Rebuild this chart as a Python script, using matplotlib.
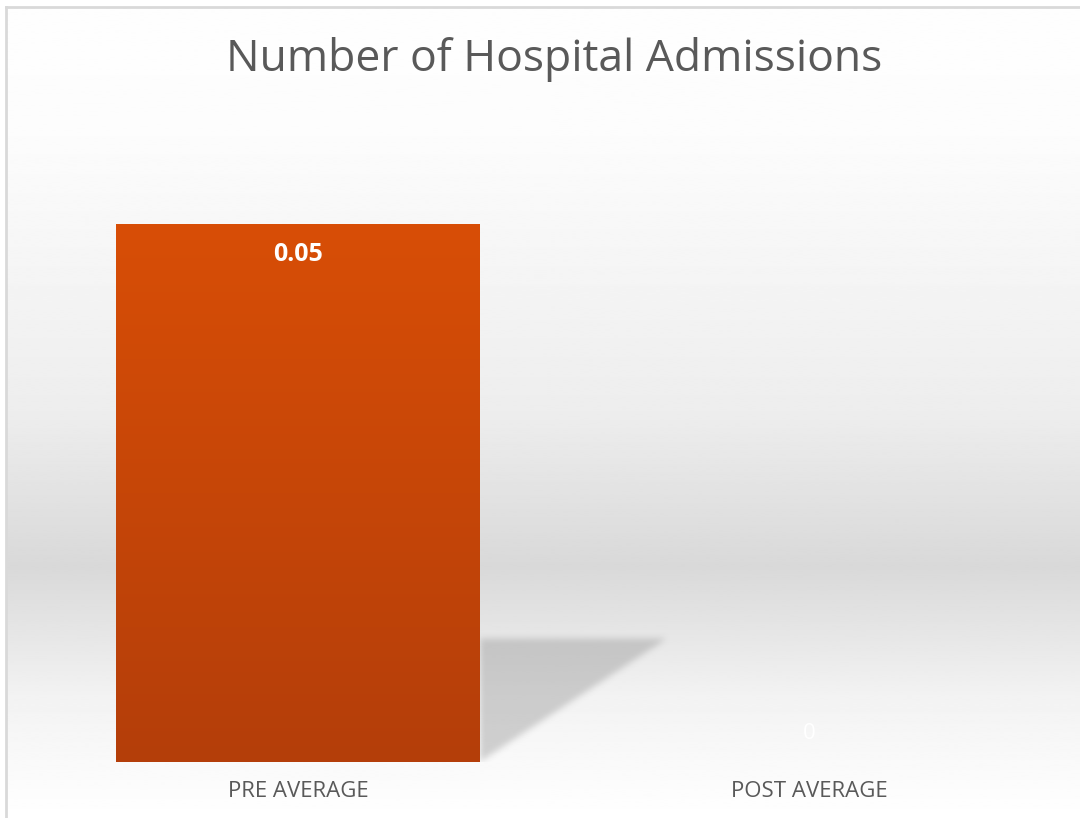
import matplotlib
matplotlib.use('Agg')
import matplotlib.pyplot as plt
import numpy as np
from matplotlib import font_manager
from matplotlib.colors import LinearSegmentedColormap
from matplotlib.patches import Rectangle

categories = ['PRE AVERAGE', 'POST AVERAGE']
values = [0.05, 0]
value_labels = ['0.05', '0']
title = 'Number of Hospital Admissions'

# pick a narrow-ish font if there is one
names = {f.name for f in font_manager.fontManager.ttflist}
font = 'DejaVu Sans'
for cand in ['Liberation Sans Narrow', 'DejaVu Sans Condensed', 'Open Sans']:
    if cand in names:
        font = cand
        break
plt.rcParams['font.family'] = [font, 'DejaVu Sans']

W, H = 1080, 818
fig = plt.figure(figsize=(W / 100, H / 100), dpi=100)
fig.patch.set_facecolor('white')

# background gradient panel with thin border (left/top only visible)
bg = fig.add_axes([6 / W, 0, 1 - 6 / W, 1 - 7 / H])
ys = np.linspace(0, 1, 400)  # 0 = top
stops_y = [0.0, 0.15, 0.5, 0.69, 0.85, 1.0]
stops_v = [0.995, 0.99, 0.93, 0.85, 0.95, 1.0]
col = np.interp(ys, stops_y, stops_v)
bg.imshow(col[:, None], cmap='gray', vmin=0, vmax=1, aspect='auto',
          extent=[0, 1, 0, 1], interpolation='bilinear')
bg.set_xlim(0, 1)
bg.set_ylim(0, 1)
bg.axis('off')
bg.plot([0, 0], [0, 1], color='#d9d9d9', lw=2, clip_on=False)
bg.plot([0, 1], [1, 1], color='#d9d9d9', lw=2, clip_on=False)

# plot area
left, right = 42.5, 1064.5
bottom, top = 762, 110
ax = fig.add_axes([left / W, 1 - bottom / H, (right - left) / W, (bottom - top) / H])
ax.patch.set_alpha(0)
x = np.arange(len(categories))
ymax = values[0] * (bottom - top) / (bottom - 224)
ax.set_xlim(-0.5, len(categories) - 0.5)
ax.set_ylim(0, ymax)
width = 0.712


def blur(a, r, n=3):
    k = np.ones(2 * r + 1) / (2 * r + 1)
    for _ in range(n):
        a = np.apply_along_axis(lambda m: np.convolve(m, k, mode='same'), 0, a)
        a = np.apply_along_axis(lambda m: np.convolve(m, k, mode='same'), 1, a)
    return a


bars = ax.bar(x, values, width=width, color='none', edgecolor='none', zorder=3)
cmap = LinearSegmentedColormap.from_list('bar', ['#b43e0a', '#d84e06'])
for b, v in zip(bars, values):
    if v <= 0:
        continue
    x0, x1 = b.get_x(), b.get_x() + b.get_width()
    # soft perspective shadow behind the bar
    sh_h = v * 0.23
    sh_w = 0.366
    pad_x, pad_y = 0.05, sh_h * 0.25
    gx = np.linspace(x1 - pad_x, x1 + sh_w + pad_x, 300)
    gy = np.linspace(-pad_y, sh_h + pad_y, 200)
    X, Y = np.meshgrid(gx, gy)
    inside = (X >= x1) & (Y >= 0) & (Y <= sh_h) & (X - x1 <= sh_w * Y / sh_h)
    m = blur(inside.astype(float), 3)
    rgba = np.zeros(m.shape + (4,))
    rgba[..., :3] = 0.55
    rgba[..., 3] = m * 0.38
    ax.imshow(rgba, origin='lower', aspect='auto', interpolation='bilinear',
              extent=[gx[0], gx[-1], gy[0], gy[-1]], zorder=1)
    grad = np.linspace(0, 1, 256)[:, None]
    im = ax.imshow(grad, cmap=cmap, aspect='auto', origin='lower',
                   extent=[x0, x1, 0, v], zorder=3)
    im.set_clip_path(Rectangle((x0, 0), x1 - x0, v, transform=ax.transData))

ax.set_xlim(-0.5, len(categories) - 0.5)
ax.set_ylim(0, ymax)

for xi, v, lab in zip(x, values, value_labels):
    if v > 0:
        ax.text(xi, v - ymax * 0.047, lab, ha='center', va='center',
                color='white', fontsize=18, fontweight='bold', zorder=5)
    else:
        ax.text(xi, ymax * 0.043, lab, ha='center', va='center',
                color='white', fontsize=16, zorder=5)

ax.set_xticks(x)
ax.set_xticklabels(categories, fontsize=16, color='#595959')
ax.tick_params(axis='x', length=0, pad=14)
ax.set_yticks([])
for s in ax.spines.values():
    s.set_visible(False)

fig.text(554 / W, 1 - 60 / H, title, ha='center', va='center',
         fontsize=32, color='#595959')

fig.savefig('out.png', dpi=100)
